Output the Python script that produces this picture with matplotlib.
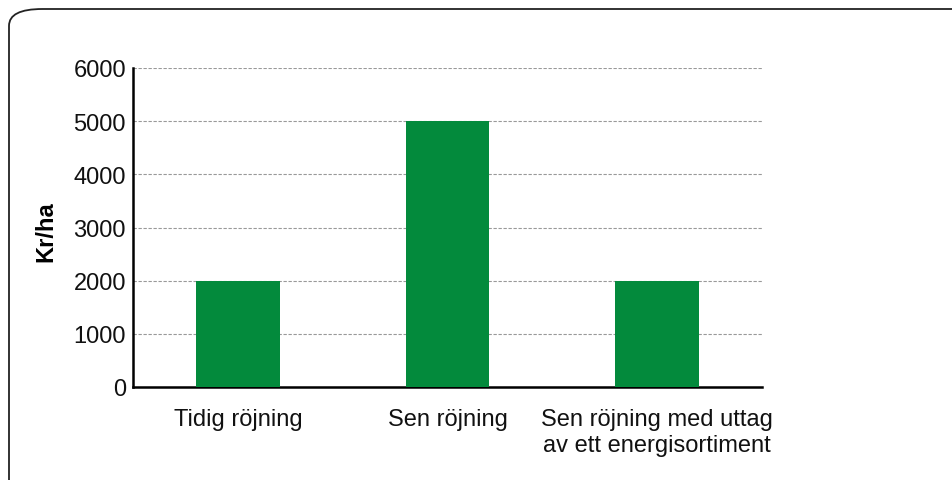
import matplotlib
matplotlib.use('Agg')
from matplotlib import pyplot as plt
from matplotlib.patches import FancyBboxPatch

categories = ['Tidig röjning', 'Sen röjning', 'Sen röjning med uttag\nav ett energisortiment']
values = [2000, 5000, 2000]
yticks = [0, 1000, 2000, 3000, 4000, 5000, 6000]

plt.rcParams['font.family'] = ['Liberation Sans', 'DejaVu Sans']

fig = plt.figure(figsize=(9.52, 4.81), dpi=100)

# rounded frame, cut off at the right and bottom edges
frame = FancyBboxPatch((9 / 952, -0.2), 1.2, 1 - 10 / 481 + 0.2,
                       boxstyle='round,pad=0,rounding_size=0.035',
                       transform=fig.transFigure, fill=False,
                       edgecolor='#222222', linewidth=1.3)
fig.patches.append(frame)

ax = fig.add_axes([133 / 952, 1 - 388 / 481, 629 / 952, 319 / 481])
ax.bar(range(len(values)), values, width=0.4, color='#038a3c', zorder=3)
ax.set_xlim(-0.5, 2.5)
ax.set_ylim(0, 6000)
ax.set_yticks(yticks)
ax.set_xticks(range(len(categories)))
ax.set_xticklabels(categories, fontsize=17, color='#111111', linespacing=1.25)
ax.tick_params(axis='y', labelsize=17, length=0, pad=5, labelcolor='#111111')
ax.tick_params(axis='x', length=0, pad=15)
ax.grid(axis='y', color='#999999', linestyle=(0, (3, 1.5)), linewidth=0.8, zorder=0)
ax.spines['top'].set_visible(False)
ax.spines['right'].set_visible(False)
ax.spines['left'].set_linewidth(1.8)
ax.spines['bottom'].set_linewidth(1.8)
ax.set_ylabel('Kr/ha', fontsize=17, fontweight='bold')
ax.yaxis.set_label_coords(-0.12, 0.49)

fig.savefig('out.png', dpi=100)
